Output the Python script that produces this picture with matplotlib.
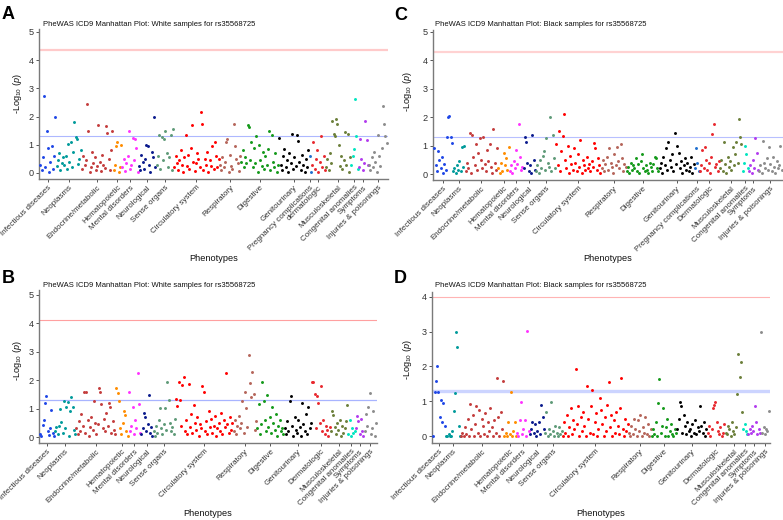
import matplotlib
matplotlib.use('Agg')
import matplotlib.pyplot as plt
import numpy as np

plt.rcParams['font.family'] = ['Liberation Sans', 'DejaVu Sans']
plt.rcParams['mathtext.fontset'] = 'custom'
plt.rcParams['mathtext.rm'] = 'Liberation Sans'
plt.rcParams['mathtext.it'] = 'Liberation Sans:italic'

W, H = 783, 520

categories = ['Infectious diseases', 'Neoplasms', 'Endocrine/metabolic', 'Hematopoietic',
              'Mental disorders', 'Neurological', 'Sense organs', 'Circulatory system',
              'Respiratory', 'Digestive', 'Genitourinary', 'Pregnancy complications',
              'Dermatologic', 'Musculoskeletal', 'Congenital anomalies', 'Symptoms',
              'Injuries & poisonings']
labels_A = categories[:12] + ['dermatologic'] + categories[13:]
colors = ['#1E46E6', '#009A9A', '#C43C3C', '#FF8C00', '#FF33FF', '#0A1A8C', '#5E9A78',
          '#FF0000', '#B5655A', '#14991A', '#000000', '#1F6FCF', '#E8282E', '#6B7F3A',
          '#00E5C0', '#B23AEE', '#8C8C8C']

titles = ['PheWAS ICD9 Manhattan Plot: White samples for rs35568725',
          'PheWAS ICD9 Manhattan Plot: White samples for rs35568725',
          'PheWAS ICD9 Manhattan Plot: Black samples for rs35568725',
          'PheWAS ICD9 Manhattan Plot: Black samples for rs35568725']
panel_letters = ['A', 'B', 'C', 'D']
bonferroni = [4.36, 4.12, 4.30, 4.00]
nominal = [1.3, 1.3, 1.3, 1.3]

# -log10(p) values per phenotype, grouped by category (in phecode order)
vals_A = [
    [.30, .10, .55, 2.72, .20, 1.48, .90, .05, .40, .96, .15, .62, 1.97],
    [.25, .45, .70, .10, .35, .55, .30, .60, .15, 1.03, .40, 1.10, .20, .75, 1.82, 1.28, 1.20, .33, .50, .80],
    [.15, .60, .30, .45, 2.45, 1.50, .05, .20, .75, .35, .55, .10, .25, 1.70, .40, .08, .65, .30, .18, 1.67, 1.42, .50, .12, .80, 1.48],
    [.10, .30, .97, 1.10, .05, .20, 1.00],
    [.20, .50, .08, .35, .60, 1.50, .15, .30, 1.25, .45, 1.20, .90, .05],
    [.25, .10, .65, .40, .15, .50, 1.00, .95, .30, .05, .75, .55, 2.00, .20],
    [.30, .60, 1.35, .15, 1.28, .45, 1.20, 1.50, .70, .20, .55, 1.35, .10, 1.55],
    [.20, .60, .35, .10, .45, .80, .30, .05, .55, 1.35, .25, .65, .15, .90, 1.70, .40, .08, .35, .70, .50, .20, 2.15, 1.75, .12, .50, .30, .75, .05, .45, .25, .96, .15, 1.10, .60, .20, .50],
    [.30, .10, .55, .20, .40, 1.10, 1.20, .05, .65, .25, .15, 1.72, .95, .50, .35, .08, .60],
    [.40, .80, .20, .55, .35, 1.70, 1.63, .45, 1.10, .20, .90, .35, 1.30, .05, 1.00, .45, .25, .75, .15, .60, .30, .85, 1.50, .10, 1.35, .40, .20, .70, .05, .30],
    [1.25, .30, .10, .60, .85, .20, .45, .05, .70, .35, 1.40, .15, .55, .25, 1.35, 1.15, .40, .10, .65, .30, .05, .50, .20, .80],
    [.60, .05],
    [.30, 1.10, .15, .50, .80, .05, .40, 1.30, .20, .60, .10],
    [.20, .50, .10, .70, .35, 1.85, 1.40, 1.30, 1.90, 1.75, 1.00, .25, .60, .15, .45, 1.45, .30, 1.40, .05, .55],
    [.30, .60, .85, 2.62, 1.30, .15],
    [.20, 1.20, .50, .10, .35, 1.85, 1.17, .30],
    [.30, .10, .55, .20, .75, .40, .05, 1.35, .60, .25, .90, 2.38, 1.73, 1.30, 1.05],
]

vals_B = [
    [.10, .05, .42, .60, 1.21, 1.45, .20, .08, .30, .95, .15, .05],
    [.20, .35, .10, .40, .99, .54, .15, 1.27, .30, 1.07, 1.25, .05, .90, 1.42, 1.04, .25, .10],
    [.30, .10, .55, .20, .80, .40, 1.58, .15, 1.58, .60, .05, .35, .70, .25, 1.27, .50, .10, .45, 1.72, 1.58, 1.16, .30, .65, .20, .85, .40, 1.19, 1.07, .15, .55, .25, .10],
    [1.74, 1.56, 1.27, .30, .10, .50, .90, .78, .20, .05],
    [1.60, .20, .40, 1.07, .10, .60, .30, 2.27, 1.16, .15],
    [.10, .30, .86, .72, .20, .45, 1.48, .15, .35, .05],
    [.20, .05, .40, .15, .60, 1.03, .30, .10, .45, 1.01, .25, 1.94, 1.30, .50, .20, .35, .10, .65],
    [1.33, 1.10, 1.93, 1.31, .40, 1.84, 2.13, .20, .60, .10, 1.87, .35, .80, .15, 1.13, .50, .25, .70, .05, .45, .30, 1.78, 1.60, .20, .55, .10, .90, .35, .65, .15, .40, .75, .05, .30, .50, .20, .85, .10, .60, .35, 2.25, .45, .15, .70, .25, .50],
    [.20, .60, .10, .40, .75, .30, .50, 1.27, .15, 1.58, 1.01, .35, 2.87, 1.90, 1.40, 2.28, 1.52, .25, .55],
    [.30, 1.16, .10, .45, 1.95, 1.27, .60, .20, 1.48, .35, .70, .15, 1.05, .50, .25, .80, .05, .40, .60, .20, .30, .10],
    [.30, .10, .55, .20, 1.27, 1.46, .40, .05, .70, .25, .15, .60, .35, .05, 1.19, .45, .20, .80, .10, 1.07, .30, .50],
    [],
    [1.92, 1.92, 1.52, .30, 1.46, 1.21, .50, 1.78, .20, .60, .10, .40, .25, .05, .35],
    [.20, .90, .78, .35, .10, .50, .25, .60, .05, .40, .15, .30, .55, 1.13],
    [.10, .60, .05, .30, .15, .20],
    [.30, .75, .55, .10, .65, .20, .05],
    [.20, .81, .40, 1.07, 1.54, .10, .30, .90, .05, .50],
]

vals_C = [
    [.90, .30, .10, .81, .50, .20, .60, .05, .35, .15, 1.32, 1.99, 2.05, 1.29, 1.08],
    [.10, .20, .05, .30, .15, .45, .10, .96, .25, 1.00],
    [.10, .40, .20, 1.46, .05, 1.38, .60, .30, 1.06, .15, .75, 1.28, .50, .20, 1.31, .35, .10, .85, .45, 1.06, .25, .05, 1.57, .40, .15, .90],
    [.20, .05, .40, .10, .73, .30, .55, .15, .96],
    [.10, .30, .05, .45, .20, .85, .35, 1.76, .60, .15, .25],
    [.20, 1.31, 1.14, .40, .10, .30, .05, 1.38, .50, .15],
    [.10, .30, .05, .50, .20, .65, .80, .15, 1.28, .40, .25, 2.02, .10, 1.38, .55, .20],
    [1.06, .30, 1.52, .10, .80, 1.34, 2.12, .50, .20, 1.00, .05, .65, .35, .15, .90, .40, .10, .70, .25, 1.20, .05, .50, .30, .15, .60, .20, .35, .10, .45, .25, 1.10, .90, .15, .55, .30, .05],
    [.20, .50, .10, .35, .60, .15, .93, .40, .25, .05, .70, .30, .96, .45, .20, 1.06, .55, .10, .35, .25],
    [.10, .25, .05, .40, .15, .30, .20, .55, .10, .35, .05, .45, .70, .20, .10, .30, .15, .05, .40, .25, .10, .35, .60, .55, .20, .10],
    [.20, .40, .05, .60, .30, .93, .15, 1.14, .50, .25, .70, .10, 1.46, .35, 1.00, .75, .20, .45, .05, .30, .55, .15, .40, .10, .25, .60, .05, .35],
    [.20, .93, .40, .10],
    [.10, .30, .85, .20, .96, .50, .15, .40, .05, .60, 1.40, 1.75, .25, .35, .10, .45],
    [.20, .50, .10, 1.14, .35, .05, .60, .25, .45, .15, .96, .30, .70, 1.12, .40, 1.93, 1.32, 1.04],
    [.10, .40, 1.00, .70, .20],
    [.10, .30, .05, .50, .20, 1.26, .73, .15],
    [.10, .30, .05, 1.16, .40, .20, .55, .15, .96, .35, .10, .60, .25, .05, .45, .20, .30, 1.00, .15],
]

vals_D = [
    [0, 1.28, 1.59, 2.00, 1.26, .56, 1.04, .40, .96, .30],
    [0, 0, .05, 0, 0, .15, .73, 1.23, 3.00, 2.56, .30, 0],
    [0, .10, 0, .25, .05, .50, 0, .92, .20, .60, 0, .35, .87, .10, .75, 0, .50, .30, .05, .65, 0, .40, .15, .80, .25, 0, .45, .10, 1.68, .55, 0, .70, .20, 1.59],
    [0, .10, 0, .40, .05, 1.26, 0, .15, .40, 0],
    [.10, 0, .45, .99, .05, .20, .45, 0, 3.03, .15],
    [.05, .20, .40, .10, .35, 0, .15, .40, .05, .89, .55, .20],
    [.10, .70, 0, .20, .05, .99, .15, 0, .30, .10, 0, .25, .05, .15],
    [0, .40, .10, .60, 0, .25, .80, .05, .45, .20, 1.93, .35, .87, 0, .55, .15, .70, .30, 0, 1.44, .50, .10, .85, 1.31, .05, .40, .65, 0, .20, 1.10, .75, .35, 0, .55, .15, .90, 1.54, .25, .60, 0, .45, .10, .70, .30, .05, .80, 1.67, .20, 0, .50, .15, .35],
    [.10, 0, .30, .05, .50, .20, 0, .45, .15, .60, 0, .25, .10, .55, .05, .35, 0, .20],
    [0, .20, .05, .40, 0, .96, 1.63, .10, .30, .80, 0, .25, .50, 0, .15, .35, .05, 0, .20, .10],
    [.20, .50, .99, .85, .10, .60, .30, .05, .40, .15, .20, 0, .35, .10, .45, .05, .25, .15, .85, .30, .10, .40, 0, .20],
    [],
    [.10, .30, 0, .20, .80, .90, .97, .40, .15, .05, .25, 0, .10, .35],
    [.10, .05, .30, .20, 0, .40, .15, .05, .25, 1.20, 2.37, 1.71, 2.12, .70],
    [.20, .35, .15, .05],
    [.05, .20, .10, .30, .15, .85, .40, .05, .20, .10],
    [3.00, .10, .25, .05, .20, .15, .73],
]

panel_vals = [vals_A, vals_B, vals_C, vals_D]
panel_labels = [labels_A, categories, categories, categories]

# layout (pixels): left, top, right, bottom of each plotting area
boxes = [(39, 29, 388, 179), (39, 290, 377, 443), (433, 30, 783, 180), (432, 292, 770, 443)]
ylims = [(-0.213, 5.106), (-0.211, 5.176), (-0.211, 5.07), (-0.2, 4.14)]
yticks = [range(0, 6), range(0, 6), range(0, 6), range(0, 5)]
red_style = [('#FFCACA', 1.6), ('#FFA0A0', 0.8), ('#FFD2D2', 1.6), ('#FFB4B4', 0.8)]
blue_style = [('#AEB8FF', 0.8), ('#A8B4FF', 0.9), ('#B8C0FF', 0.8), ('#CCD4FF', 2.4)]
letter_pos = [(2, 19), (2, 283), (394, 20), (394, 283)]
title_pos = [(43, 25.5), (43, 287), (435, 25.5), (435, 287)]
ylabel_pos = [(17, 94), (17, 361), (408, 92), (408, 360)]
xlabel_y = [258.5, 513.5, 258.5, 513.5]

fig = plt.figure(figsize=(W / 100, H / 100), dpi=100)

for i in range(4):
    l, t, r, b = boxes[i]
    ax = fig.add_axes([l / W, 1 - b / H, (r - l) / W, (b - t) / H])
    vals = panel_vals[i]
    labs = panel_labels[i]
    x0 = 0
    ticks, ticklabels = [], []
    for ci, v in enumerate(vals):
        if len(v) == 0:
            continue
        xs = np.arange(x0, x0 + len(v))
        ax.scatter(xs, v, s=4.5, color=colors[ci], linewidths=0, zorder=3)
        ticks.append(xs.mean())
        ticklabels.append(labs[ci])
        x0 += len(v)
    ax.axhline(bonferroni[i], color=red_style[i][0], lw=red_style[i][1], zorder=1)
    ax.axhline(nominal[i], color=blue_style[i][0], lw=blue_style[i][1], zorder=1)
    ax.set_xlim(-1, x0)
    ax.set_ylim(*ylims[i])
    ax.set_yticks(list(yticks[i]))
    ax.set_xticks(ticks)
    ax.set_xticklabels(ticklabels, rotation=45, ha='right', va='top',
                       rotation_mode='anchor', fontsize=5.8, color='#333333')
    ax.tick_params(axis='y', labelsize=6.6, labelcolor='#333333', length=2.2,
                   width=0.7, color='#555555', pad=1.5)
    ax.tick_params(axis='x', length=2.2, width=0.7, color='#555555', pad=1.5)
    for s in ['top', 'right']:
        ax.spines[s].set_visible(False)
    for s in ['left', 'bottom']:
        ax.spines[s].set_color('#7a7a7a')
        ax.spines[s].set_linewidth(1.0)
    ax.patch.set_alpha(0)

    lx, ly = letter_pos[i]
    fig.text(lx / W, 1 - ly / H, panel_letters[i], fontsize=13, fontweight='bold',
             va='baseline', ha='left')
    tx, ty = title_pos[i]
    fig.text(tx / W, 1 - ty / H, titles[i], fontsize=5.5, va='baseline', ha='left',
             color='#111111')
    yx, yy = ylabel_pos[i]
    fig.text(yx / W, 1 - yy / H, r'-Log$_{10}$ ($\mathit{p}$)', rotation=90,
             fontsize=6.6, va='center', ha='center', color='#111111')
    fig.text(((l + r) / 2) / W, 1 - xlabel_y[i] / H, 'Phenotypes', fontsize=6.6,
             va='center', ha='center', color='#111111')

fig.savefig('out.png', dpi=100)
